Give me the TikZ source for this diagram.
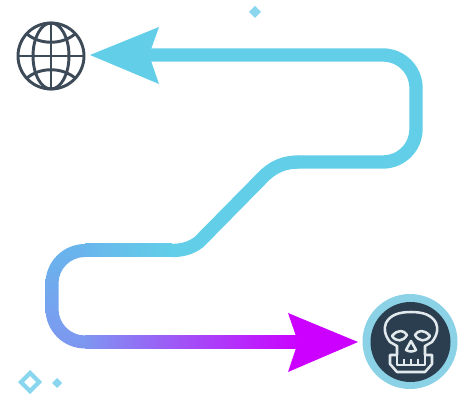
\documentclass[tikz,border=0pt]{standalone}
\definecolor{routecyan}{HTML}{62CEE8}
\definecolor{routesky}{HTML}{68B6EC}
\definecolor{routeblue}{HTML}{7E96F0}
\definecolor{routemag}{HTML}{CC00FF}
\definecolor{globegray}{HTML}{3D4A57}
\definecolor{skulldark}{HTML}{2B3E50}
\definecolor{skullring}{HTML}{8CD2E6}
\definecolor{skullline}{HTML}{E2E9EC}
\definecolor{speck}{HTML}{8AD6EE}
\tikzset{
  route/.style={draw=routecyan,line width=10pt},
  globeline/.style={draw=globegray,line width=2.2pt},
  skullstroke/.style={draw=skullline,line width=1.9pt,line join=round},
  speckle/.style={fill=speck},
}
\begin{document}
\begin{tikzpicture}[x=.75pt,y=.75pt]
  \useasboundingbox (0,0) rectangle (460,396);
  % path, upper part
  \draw[route,rounded corners=24.75pt] (149,341) -- (416,341) -- (416,234) -- (298,234);
  \draw[route] (299,234) .. controls (285,234) and (275,230) .. (265,221) -- (199,154)
     .. controls (191,148) and (183,145.5) .. (171,145.5);
  % path, lower part with the colour running out
  \shade[left color=routesky,right color=routecyan] (85,139) rectangle (172,152);
  \shade[top color=routesky,bottom color=routeblue] (85,152) arc (90:180:39.5) -- (45.5,87)
     arc (180:270:39.5) -- (85,60.5) arc (270:180:26.5) -- (58.5,112.5) arc (180:90:26.5) -- cycle;
  \shade[left color=routeblue,right color=routemag] (85,47.5) rectangle (300,60.5);
  % arrow heads
  \fill[routecyan] (90,341) -- (159,369) -- (149,341) -- (159,312) -- cycle;
  \fill[routemag] (358,54) -- (288,83) -- (298,54) -- (288,24) -- cycle;
  % globe
  \begin{scope}[shift={(51,340)}]
    \draw[globeline] (0,0) circle(33);
    \draw[globeline] (0,0) ellipse(18 and 33);
    \draw[globeline] (0,33) -- (0,-33);
    \draw[globeline] (-33,0) -- (33,0);
    \draw[globeline] (-24,22) .. controls (-11,11) and (11,11) .. (24,22);
    \draw[globeline] (-24,-22) .. controls (-11,-11) and (11,-11) .. (24,-22);
  \end{scope}
  % skull
  \fill[skullring] (410,54.5) circle(47.5);
  \fill[skulldark] (410.5,54) circle(40);
  \begin{scope}[shift={(411,54)}]
    \draw[skullstroke] (-14,-13) -- (-14,-4) -- (-21,0) .. controls (-27,8) and (-27,14) .. (-25,19)
       .. controls (-21,27) and (-12,30) .. (0,30) .. controls (12,30) and (21,27) .. (25,19)
       .. controls (27,14) and (27,8) .. (21,0) -- (14,-4) -- (14,-13);
    \draw[skullstroke] (-14,-13) -- (-21,-13) -- (-21,-22) -- (-14,-30) -- (14,-30) -- (21,-22) -- (21,-13) -- (14,-13);
    \draw[skullstroke] (-14,-13) -- (-14,-23) -- (14,-23) -- (14,-13);
    \foreach \t in {-7,0,7}
      \draw[skullstroke] (\t,-17) -- (\t,-23);
    \draw[skullstroke] (-19,6) .. controls (-13,13) and (-7,12) .. (-4,7) .. controls (-8,0) and (-15,0) .. cycle;
    \draw[skullstroke] (19,6) .. controls (13,13) and (7,12) .. (4,7) .. controls (8,0) and (15,0) .. cycle;
    \draw[skullstroke] (0,1) -- (-5,-8) .. controls (-2,-10) and (2,-10) .. (5,-8) -- cycle;
  \end{scope}
  % specks
  \fill[speckle] (255,390) -- (249,384) -- (255,378) -- (261,384) -- cycle;
  \fill[speckle,even odd rule] (30,26) -- (18,14) -- (30,2) -- (42,14) -- cycle
     (30,20) -- (24,14) -- (30,8) -- (36,14) -- cycle;
  \fill[speckle] (57,18) -- (52,13) -- (57,8) -- (62,13) -- cycle;
\end{tikzpicture}
\end{document}
